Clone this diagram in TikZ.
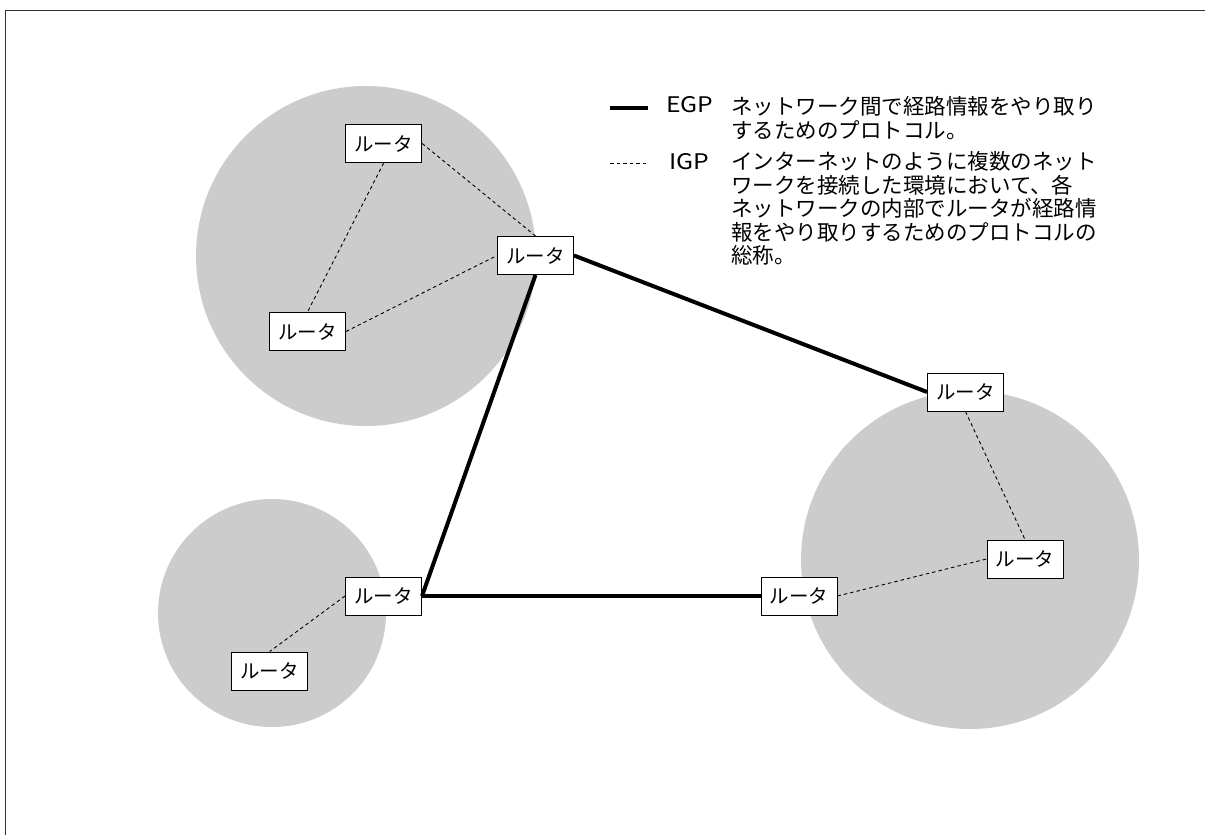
\documentclass[tikz,border=0pt]{standalone}
\usepackage{fontspec}
\usepackage{graphicx}
\setmainfont{Noto Sans CJK JP}
\definecolor{netgray}{HTML}{CCCCCC}
\definecolor{framegray}{HTML}{333333}
\begin{document}
\begin{tikzpicture}[x=1pt,y=-1pt,
  router/.style={draw=black,line width=1pt,fill=white,minimum width=76pt,minimum height=38pt,inner sep=0pt,font=\fontsize{19.5}{19.5}\selectfont},
  egp/.style={line width=4pt,black},
  igp/.style={line width=0.9pt,black,dash pattern=on 3.5pt off 3pt},
  legtext/.style={align=left,inner sep=0pt,font=\fontsize{21.5}{23.5}\selectfont},
  leglabel/.style={inner sep=0pt,font=\fontsize{21.5}{21.5}\selectfont}]
\useasboundingbox (0,0) rectangle (1205,835);
% frame (only top and left edges fall inside the picture)
\draw[framegray,line width=1.5pt] (5.5,835) -- (5.5,10.5) -- (1205,10.5);
% networks
\fill[netgray] (366,256) circle[radius=170pt];
\fill[netgray] (272,613) circle[radius=114pt];
\fill[netgray] (970,560) circle[radius=169pt];
% routers
\node[router] (R1) at (383.7,143.5) {ルータ};
\node[router] (R2) at (535.5,255.5) {ルータ};
\node[router] (R3) at (307.5,331.5) {ルータ};
\node[router] (R4) at (965.5,392) {ルータ};
\node[router] (R5) at (1025,559) {ルータ};
\node[router] (R6) at (799,596) {ルータ};
\node[router] (R7) at (383.5,596) {ルータ};
\node[router] (R8) at (269.7,671) {ルータ};
% IGP links
\draw[igp] (R1.east) -- (R2.north);
\draw[igp] (R1.south) -- (R3.north);
\draw[igp] (R3.east) -- (R2.west);
\draw[igp] (R4.south) -- (R5.north);
\draw[igp] (R6.east) -- (R5.west);
\draw[igp] (R7.west) -- (R8.north);
% EGP links
\draw[egp] (R2.east) -- (R4.west);
\draw[egp] (R2.south) -- (R7.east);
\draw[egp] (R7.east) -- (R6.west);
% legend
\coordinate (LA1) at (610,108);
\coordinate (LA2) at (648,108);
\coordinate (LB1) at (610,163);
\coordinate (LB2) at (646,163);
\draw[line width=4pt] (LA1) -- (LA2);
\draw[igp,line width=0.8pt] (LB1) -- (LB2);
\node[leglabel] (egplabel) at (690,105) {\scalebox{1.15}[1]{EGP}};
\node[leglabel] (igplabel) at (689,162) {\scalebox{1.15}[1]{IGP}};
\node[legtext,anchor=west] (egptext) at (731,118) {ネットワーク間で経路情報をやり取り\\するためのプロトコル。};
\node[legtext,anchor=west] (igptext) at (731,208.5) {インターネットのように複数のネット\\ワークを接続した環境において、各\\ネットワークの内部でルータが経路情\\報をやり取りするためのプロトコルの\\総称。};
\end{tikzpicture}
\end{document}
